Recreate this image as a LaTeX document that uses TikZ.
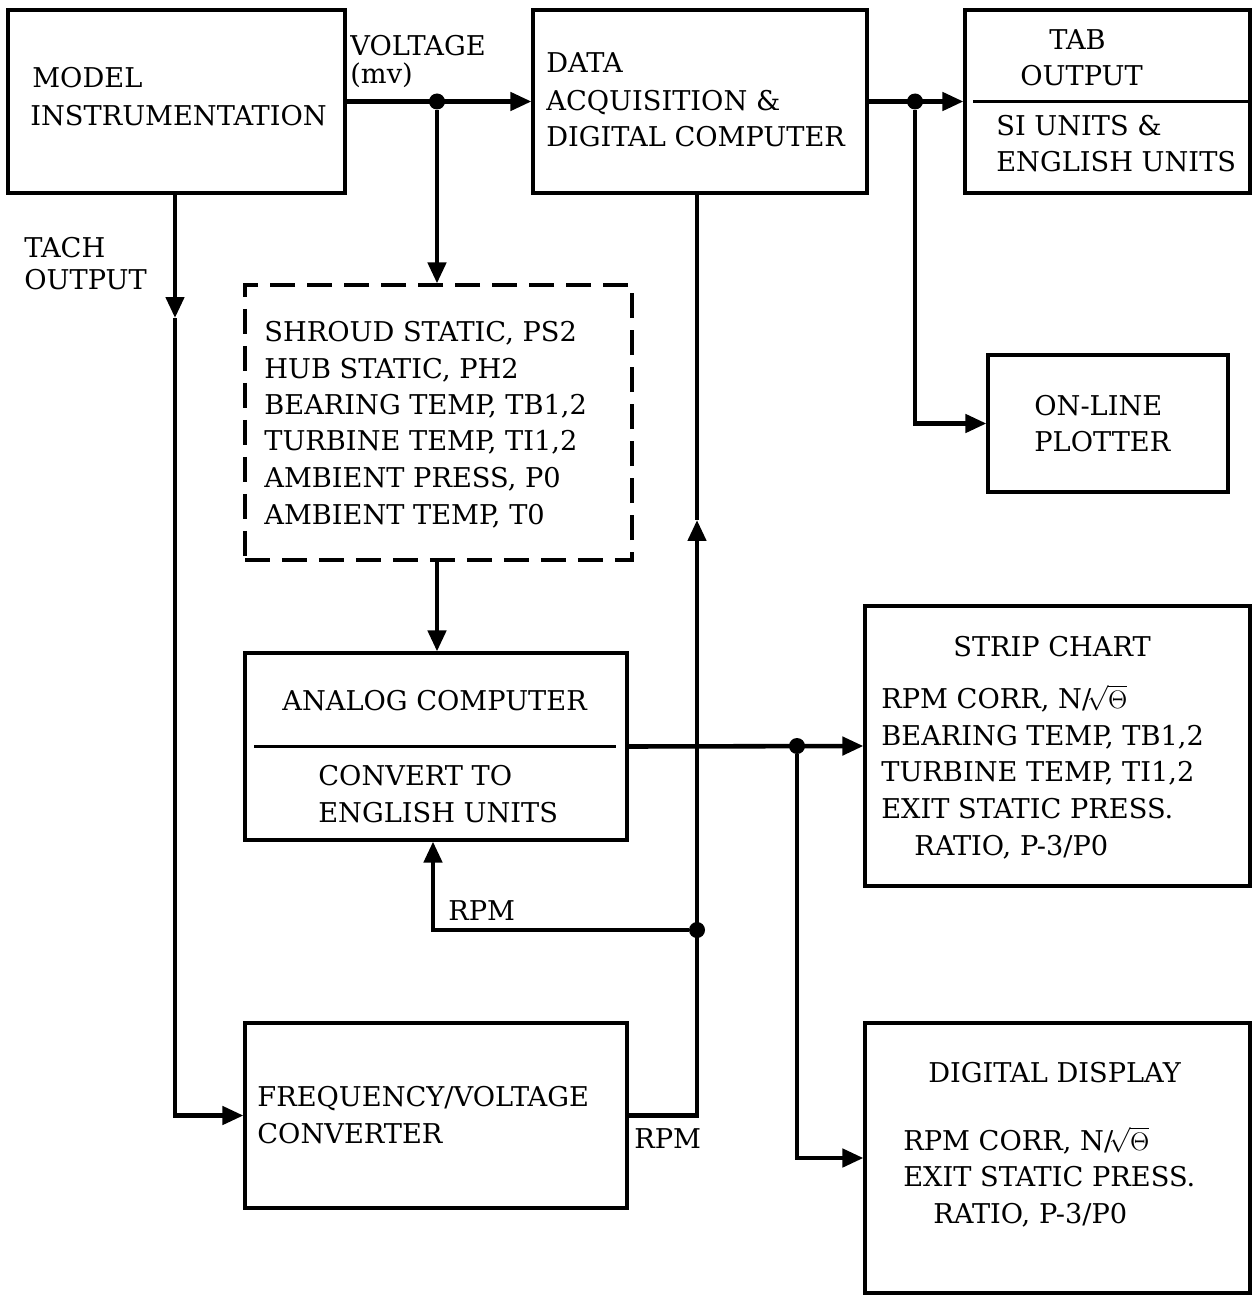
\documentclass[tikz,border=0pt]{standalone}
\usepackage{fontspec}
\setmainfont{DejaVu Serif}
\usetikzlibrary{arrows.meta,calc}
\newcommand{\rootth}{N/{\fontsize{15}{15}\selectfont\smash{$\!\sqrt{\Theta}$}}}
\begin{document}
\begin{tikzpicture}[x=0.02cm,y=-0.02cm,
  box/.style={draw, line width=1.8pt, inner sep=0pt},
  dbox/.style={draw, line width=1.8pt, inner sep=0pt, dash pattern=on 0.5cm off 0.24cm},
  conn/.style={line width=2.6pt},
  arr/.style={-{Triangle[length=0.42cm,width=0.36cm]}},
  lbl/.style={anchor=base west, inner sep=0pt, font=\fontsize{15.5}{18}\selectfont},
  dot/.style={circle, fill, inner sep=0pt, minimum size=0.32cm}]
\useasboundingbox (0,0) rectangle (1255,1297);
% boxes
\node[box, minimum width=337*0.02cm, minimum height=183*0.02cm] (model) at (176.5,101.5) {};
\node[box, minimum width=334*0.02cm, minimum height=183*0.02cm] (data) at (700,101.5) {};
\node[box, minimum width=285*0.02cm, minimum height=183*0.02cm] (tab) at (1107.5,101.5) {};
\node[dbox, minimum width=387*0.02cm, minimum height=275*0.02cm] (meas) at (438.5,422.5) {};
\node[box, minimum width=240*0.02cm, minimum height=137*0.02cm] (plot) at (1108,423.5) {};
\node[box, minimum width=382*0.02cm, minimum height=187*0.02cm] (analog) at (436,746.5) {};
\node[box, minimum width=385*0.02cm, minimum height=280*0.02cm] (strip) at (1057.5,746) {};
\node[box, minimum width=382*0.02cm, minimum height=185*0.02cm] (fv) at (436,1115.5) {};
\node[box, minimum width=385*0.02cm, minimum height=270*0.02cm] (disp) at (1057.5,1158) {};
% dividers
\draw[line width=1.8pt] ($(tab.west)+(10,0)$) -- ($(tab.east)+(-2,0)$);
\draw[line width=1.8pt] ($(analog.west)+(11,0)$) -- ($(analog.east)+(-13,0)$);
% texts
\node[lbl] (t1) at (32,88) {MODEL};
\node[lbl] (t2) at (30,126) {INSTRUMENTATION};
\node[lbl] (t3) at (350,56) {VOLTAGE};
\node[lbl] (t4) at (350,84) {(mv)};
\node[lbl] (t5) at (546,73) {DATA};
\node[lbl] (t6) at (546,111) {ACQUISITION \&};
\node[lbl] (t7) at (546,147) {DIGITAL COMPUTER};
\node[lbl] (t8) at (1049,50) {TAB};
\node[lbl] (t9) at (1020,86) {OUTPUT};
\node[lbl] (t10) at (996,136) {SI UNITS \&};
\node[lbl] (t11) at (996,172) {ENGLISH UNITS};
\node[lbl] (t12) at (24,258) {TACH};
\node[lbl] (t13) at (24,290) {OUTPUT};
\node[lbl] (m1) at (264,341) {SHROUD STATIC, PS2};
\node[lbl] (m2) at (264,378) {HUB STATIC, PH2};
\node[lbl] (m3) at (264,414) {BEARING TEMP, TB1,2};
\node[lbl] (m4) at (264,450) {TURBINE TEMP, TI1,2};
\node[lbl] (m5) at (264,487) {AMBIENT PRESS, P0};
\node[lbl] (m6) at (264,524) {AMBIENT TEMP, T0};
\node[lbl] (p1) at (1034,415) {ON-LINE};
\node[lbl] (p2) at (1034,451) {PLOTTER};
\node[lbl] (a1) at (282,710) {ANALOG COMPUTER};
\node[lbl] (a2) at (318,785) {CONVERT TO};
\node[lbl] (a3) at (318,822) {ENGLISH UNITS};
\node[lbl] (s1) at (953,656) {STRIP CHART};
\node[lbl] (s2) at (881,708) {RPM CORR, \rootth};
\node[lbl] (s3) at (881,745) {BEARING TEMP, TB1,2};
\node[lbl] (s4) at (881,781) {TURBINE TEMP, TI1,2};
\node[lbl] (s5) at (881,818) {EXIT STATIC PRESS.};
\node[lbl] (s6) at (914,855) {RATIO, P-3/P0};
\node[lbl] (r1) at (448,920) {RPM};
\node[lbl] (f1) at (257,1106) {FREQUENCY/VOLTAGE};
\node[lbl] (f2) at (257,1143) {CONVERTER};
\node[lbl] (r2) at (634,1148) {RPM};
\node[lbl] (d1) at (928,1082) {DIGITAL DISPLAY};
\node[lbl] (d2) at (903,1150) {RPM CORR, \rootth};
\node[lbl] (d3) at (903,1186) {EXIT STATIC PRESS.};
\node[lbl] (d4) at (933,1223) {RATIO, P-3/P0};
% junctions and helper coordinates
\node[dot] (j1) at (437,101.5) {};
\node[dot] (j2) at (915,101.5) {};
\node[dot] (j3) at (797,746) {};
\node[dot] (j4) at (697,930) {};
\coordinate (tachx) at (175,0);
\coordinate (tachmid) at (175,318);
\coordinate (upmid) at (697,520);
\coordinate (rpmx) at (433,0);
% connectors
\draw[conn, arr] (model.east) -- (data.west);
\draw[conn, arr] (j1) -- (j1 |- meas.north);
\draw[conn, arr] (data.east) -- (tab.west);
\draw[conn, arr] (j2) |- (plot.west);
\draw[conn, arr] (j1 |- meas.south) -- (j1 |- analog.north);
\draw[conn, arr] (analog.east) -- (strip.west);
\draw[conn, arr] (j3) |- (disp.west);
\draw[conn, arr] (tachx |- model.south) -- (tachmid);
\draw[conn, arr] (tachmid) |- (fv.west);
\draw[conn, arr] (fv.east) -| (upmid);
\draw[conn] (upmid) -- (upmid |- data.south);
\draw[conn, arr] (j4) -| (rpmx |- analog.south);
\end{tikzpicture}
\end{document}
